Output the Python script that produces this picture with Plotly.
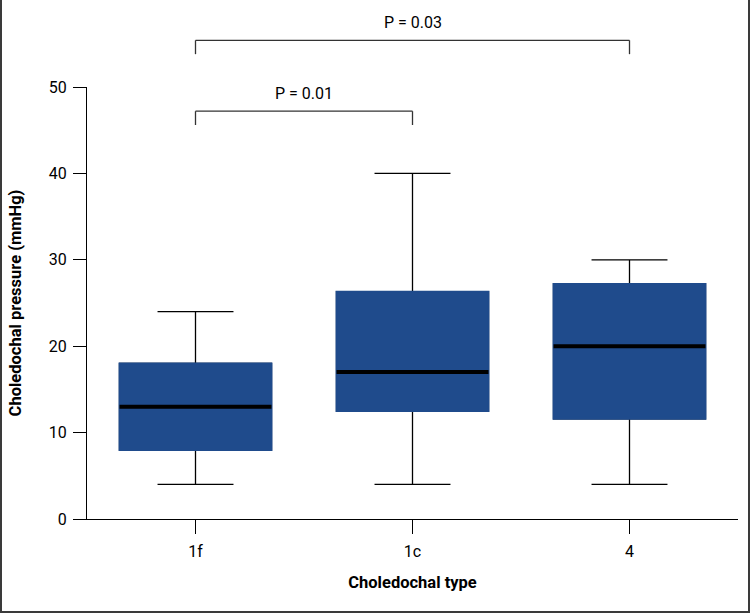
import plotly.graph_objects as go

categories = ["1f", "1c", "4"]
lower = [4, 4, 4]
q1 = [8, 12.5, 11.6]
median = [13, 17, 20]
q3 = [18, 26.3, 27.2]
upper = [24, 40, 30]

# pairs compared (category index), bracket height in mmHg, label
pairs = [(0, 1), (0, 2)]
bracket_y = [47.2, 55.4]
p_labels = ["P = 0.01", "P = 0.03"]

Y_MAX = 50
BLUE = "#1f4b8c"
FONT = "Roboto, Open Sans, sans-serif"
W, H = 750, 613
L, R, T, B = 87, 12, 87, 94

fig = go.Figure()

# whiskers (black) - box body drawn again on top in blue
fig.add_trace(go.Box(
    x=categories, q1=q1, median=median, q3=q3,
    lowerfence=lower, upperfence=upper,
    fillcolor=BLUE, line=dict(color="black", width=1.3),
    width=0.7, whiskerwidth=0.5, boxpoints=False, hoverinfo="skip",
))
fig.add_trace(go.Box(
    x=categories, q1=q1, median=q1, q3=q3,
    lowerfence=q1, upperfence=q3,
    fillcolor=BLUE, line=dict(color=BLUE, width=2),
    width=0.7, boxpoints=False, hoverinfo="skip",
))
# median lines
fig.add_trace(go.Box(
    x=categories, q1=median, median=median, q3=median,
    lowerfence=median, upperfence=median,
    fillcolor="black", line=dict(color="black", width=4),
    width=0.7, boxpoints=False, hoverinfo="skip",
))

shapes = []
annotations = []
for (a, b), yv, lab in zip(pairs, bracket_y, p_labels):
    yp = yv / Y_MAX
    drop = 1.6 / Y_MAX
    shapes.append(dict(type="line", xref="x", yref="paper", x0=a, x1=b,
                       y0=yp, y1=yp, line=dict(color="#333", width=1.3)))
    for c in (a, b):
        shapes.append(dict(type="line", xref="x", yref="paper", x0=c, x1=c,
                           y0=yp, y1=yp - drop, line=dict(color="#333", width=1.3)))
    annotations.append(dict(
        x=(a + b) / 2, xref="x", y=yp + 0.7 / Y_MAX, yref="paper",
        text=lab, showarrow=False, yanchor="bottom",
        font=dict(size=16, color="black"),
    ))

pw = W - L - R
ph = H - T - B
shapes.append(dict(type="rect", xref="paper", yref="paper",
                   x0=(1 - L) / pw, x1=(W - 1 - L) / pw,
                   y0=-(B - 1) / ph, y1=(H - T - 1) / ph + 0,
                   line=dict(color="#3a3a3a", width=2)))

fig.update_layout(
    width=W, height=H,
    margin=dict(l=L, r=R, t=T, b=B),
    plot_bgcolor="white", paper_bgcolor="white",
    showlegend=False, boxmode="overlay",
    font=dict(family=FONT, size=16, color="black"),
    shapes=shapes, annotations=annotations,
    xaxis=dict(
        type="category", range=[-0.5, 2.5],
        showline=True, linecolor="black", linewidth=1.3,
        ticks="outside", ticklen=14, tickwidth=1.3, tickcolor="black",
        ticklabelstandoff=4,
        showgrid=False, zeroline=False,
        title=dict(text="<b>Choledochal type</b>", standoff=16, font=dict(size=16.5)),
    ),
    yaxis=dict(
        range=[0, Y_MAX], tickvals=[0, 10, 20, 30, 40, 50],
        showline=True, linecolor="black", linewidth=1.3,
        ticks="outside", ticklen=13, tickwidth=1.3, tickcolor="black",
        ticklabelstandoff=3,
        showgrid=False, zeroline=False,
        title=dict(text="<b>Choledochal pressure (mmHg)</b>", standoff=22, font=dict(size=16.5)),
    ),
)

fig.write_html("out.html", config={"displayModeBar": False},
               post_script="document.body.style.margin='0';")
